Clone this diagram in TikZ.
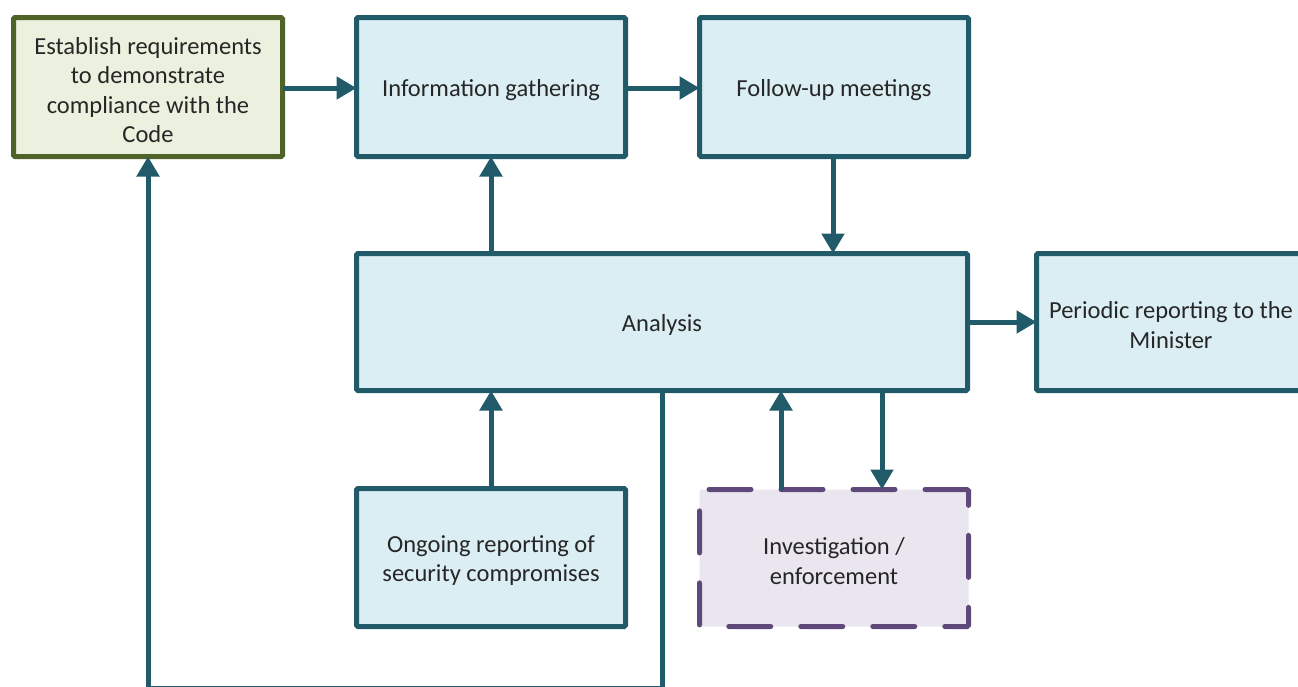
\documentclass[tikz,border=0pt]{standalone}
\usepackage{fontspec}
\setmainfont{Carlito}
\usetikzlibrary{arrows.meta}
\definecolor{teal}{HTML}{215A69}
\definecolor{bluefill}{HTML}{DBEEF4}
\definecolor{olive}{HTML}{4F6228}
\definecolor{greenfill}{HTML}{EBF1DE}
\definecolor{purp}{HTML}{5F497A}
\definecolor{purpfill}{HTML}{EAE6EF}
\definecolor{txt}{HTML}{262626}
\begin{document}
\begin{tikzpicture}[x=1pt,y=-1pt,
  box/.style={draw=teal,fill=bluefill,line width=5pt,rounded corners=1.5pt,
    minimum width=269pt,minimum height=139pt,anchor=north west,inner sep=0pt,outer sep=0pt},
  gbox/.style={box,draw=olive,fill=greenfill},
  pbox/.style={box,draw=purp,fill=purpfill,dash pattern=on 42pt off 30pt,line cap=round},
  lbl/.style={align=center,text=txt,font=\fontsize{24.5}{29.5}\selectfont,inner sep=0pt,yshift=-3pt},
  conn/.style={draw=teal,line width=5pt,-{Triangle[width=22pt,length=20pt]}},
  line/.style={draw=teal,line width=5pt}]
\useasboundingbox (0,0) rectangle (1298,686);
\node[gbox] (est) at (13.5,17.5) {};
\node[box] (info) at (356.5,17.5) {};
\node[box] (fol) at (699.5,17.5) {};
\node[box,minimum width=611pt,minimum height=137pt] (ana) at (356.5,253.5) {};
\node[box,minimum height=137pt] (per) at (1036.5,253.5) {};
\node[box,minimum height=138pt] (ong) at (356.5,488.5) {};
\node[pbox,minimum height=137pt] (inv) at (699.5,489.5) {};
\node[lbl] (estl) at (est.center) {Establish requirements\\to demonstrate\\compliance with the\\Code};
\node[lbl] (infol) at (info.center) {Information gathering};
\node[lbl] (foll) at (fol.center) {Follow-up meetings};
\node[lbl] (anal) at (ana.center) {Analysis};
\node[lbl] (perl) at (per.center) {Periodic reporting to the\\Minister};
\node[lbl] (ongl) at (ong.center) {Ongoing reporting of\\security compromises};
\node[lbl] (invl) at (inv.center) {Investigation /\\enforcement};
\draw[conn] (est.east|-0,88) -- (info.west|-0,88);
\draw[conn] (info.east|-0,88) -- (fol.west|-0,88);
\draw[conn] (833,0|-fol.south) -- (833,0|-ana.north);
\draw[conn] (491,0|-ana.north) -- (491,0|-info.south);
\draw[conn] (ana.east|-0,322) -- (per.west|-0,322);
\draw[conn] (491,0|-ong.north) -- (491,0|-ana.south);
\draw[conn] (781,0|-inv.north) -- (781,0|-ana.south);
\draw[conn] (882,0|-ana.south) -- (882,0|-inv.north);
\coordinate (c1) at (662,688);
\coordinate (c2) at (148,688);
\draw[line,-{Triangle[width=22pt,length=20pt]}] (662,0|-ana.south) -- (c1) -- (c2) -- (148,0|-est.south);
\end{tikzpicture}
\end{document}
